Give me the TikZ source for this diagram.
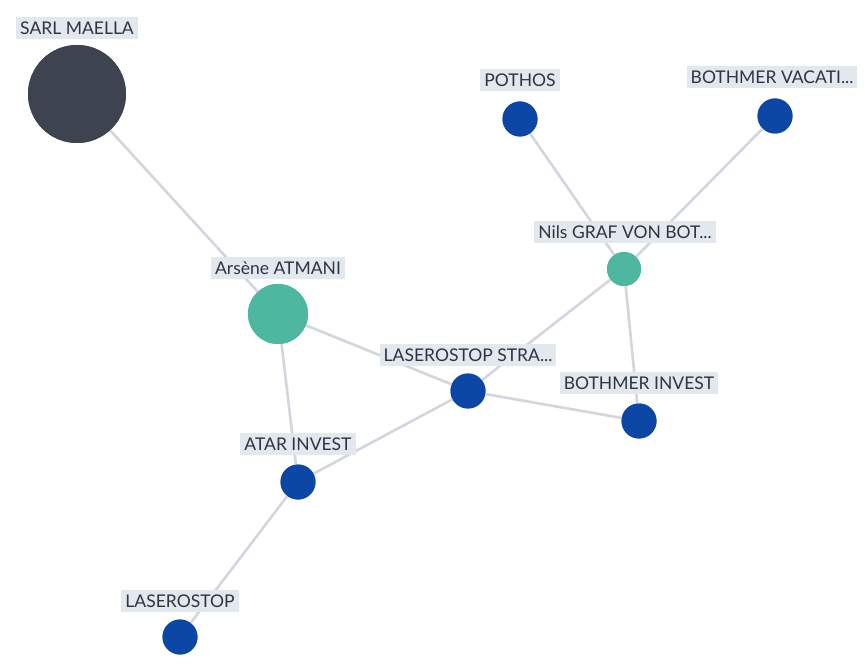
\documentclass[tikz,border=0pt]{standalone}
\usepackage{fontspec}
\setmainfont{Lato}
\definecolor{darknode}{HTML}{3E4350}
\definecolor{tealnode}{HTML}{4DB89F}
\definecolor{bluenode}{HTML}{0D47A6}
\definecolor{labelbg}{HTML}{E3E7EE}
\definecolor{edgecol}{HTML}{D3D7DD}
\definecolor{labeltext}{HTML}{2E3440}
\tikzset{
  dot/.style={circle, inner sep=0pt, draw=none},
  darkdot/.style={dot, fill=darknode, minimum size=98pt},
  tealbig/.style={dot, fill=tealnode, minimum size=60pt},
  tealsmall/.style={dot, fill=tealnode, minimum size=34pt},
  bluedot/.style={dot, fill=bluenode, minimum size=35pt},
  lbl/.style={fill=labelbg, text=labeltext, font=\fontsize{17.5}{19}\selectfont, inner xsep=4pt, inner ysep=4.5pt},
  link/.style={draw=edgecol, line width=2.6pt}
}
\begin{document}
\begin{tikzpicture}[x=1pt,y=-1pt]
\useasboundingbox (0,0) rectangle (865,668);
\fill[white] (0,0) rectangle (865,668);
% nodes
\node[darkdot] (sarl) at (77,94) {};
\node[tealbig] (arsene) at (278,314) {};
\node[bluedot] (pothos) at (520,119) {};
\node[bluedot] (bvac) at (775,116) {};
\node[tealsmall] (nils) at (624,269) {};
\node[bluedot] (lstra) at (468,391) {};
\node[bluedot] (binv) at (639,421) {};
\node[bluedot] (atar) at (298,482) {};
\node[bluedot] (laser) at (180,637) {};
% edges
\draw[link] (sarl) -- (arsene);
\draw[link] (arsene) -- (lstra);
\draw[link] (arsene) -- (atar);
\draw[link] (atar) -- (lstra);
\draw[link] (atar) -- (laser);
\draw[link] (lstra) -- (nils);
\draw[link] (lstra) -- (binv);
\draw[link] (nils) -- (pothos);
\draw[link] (nils) -- (bvac);
\draw[link] (nils) -- (binv);
% redraw dots on top of edges
\node[darkdot] at (sarl) {};
\node[tealbig] at (arsene) {};
\node[bluedot] at (pothos) {};
\node[bluedot] at (bvac) {};
\node[tealsmall] at (nils) {};
\node[bluedot] at (lstra) {};
\node[bluedot] at (binv) {};
\node[bluedot] at (atar) {};
\node[bluedot] at (laser) {};
% labels
\node[lbl] (sarlL) at (77,28) {SARL MAELLA};
\node[lbl] (arseneL) at (278,268) {Arsène ATMANI};
\node[lbl] (pothosL) at (520,80) {POTHOS};
\node[lbl] (bvacL) at (772,77) {BOTHMER VACATI...};
\node[lbl] (nilsL) at (625,232) {Nils GRAF VON BOT...};
\node[lbl] (lstraL) at (468,355) {LASEROSTOP STRA...};
\node[lbl] (binvL) at (639,383) {BOTHMER INVEST};
\node[lbl] (atarL) at (298,444) {ATAR INVEST};
\node[lbl] (laserL) at (180,601) {LASEROSTOP};
\end{tikzpicture}
\end{document}
